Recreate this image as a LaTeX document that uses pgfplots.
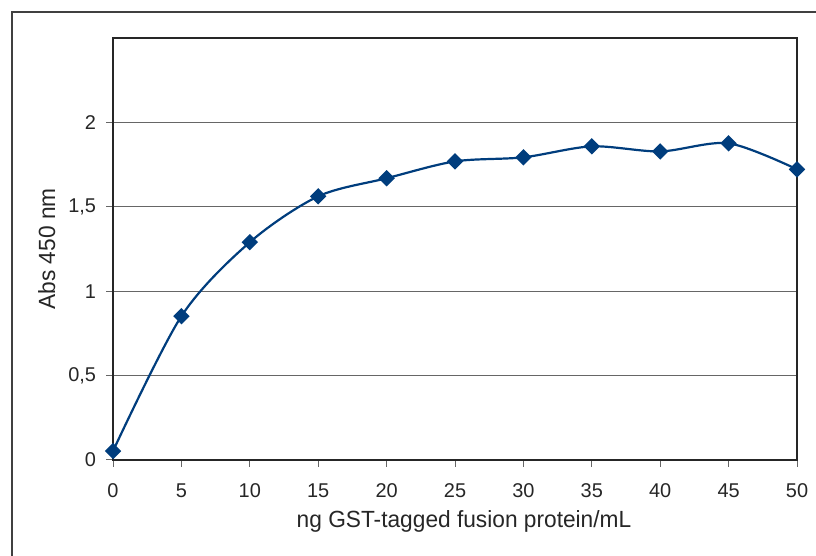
\documentclass[border=0pt]{standalone}
\usepackage{fontspec}
\setmainfont{Liberation Sans}
\newfontfamily\condfont[FakeStretch=0.97]{Liberation Sans}
\usepackage{pgfplots}
\pgfplotsset{compat=1.18}
\definecolor{navy}{RGB}{0,61,125}
\begin{document}
\begin{tikzpicture}[x=1bp,y=1bp]
\path[use as bounding box] (0,0) rectangle (816,556);
\draw[line width=1.5bp, black!75] (12,0) -- (12,544) -- (816,544);
\begin{axis}[
  at={(113bp,96bp)}, anchor=south west,
  scale only axis, width=684bp, height=422bp,
  xmin=0, xmax=50, ymin=0, ymax=2.5,
  xtick={0,5,...,50}, ytick={0,0.5,1,1.5,2},
  tick align=outside, tick pos=left,
  major tick length=7bp,
  ymajorgrids, grid style={black!60, line width=0.8bp},
  axis line style={black!85, line width=1.3bp},
  tick style={black!60, line width=1bp},
  /pgf/number format/use comma,
  /pgf/number format/assume math mode=true,
  ticklabel style={font=\fontsize{20}{24}\selectfont, text=black!85},
  xticklabel style={yshift=-13bp},
  yticklabel style={xshift=-6.5bp},
  xlabel={ng GST-tagged fusion protein/mL},
  ylabel={Abs 450 nm},
  label style={font=\condfont\fontsize{23.5}{28}\selectfont, text=black!85},
  xlabel style={at={(axis description cs:0.5,0)}, anchor=north, yshift=-47bp, xshift=9bp},
  ylabel style={yshift=6bp},
]
\addplot[navy, line width=2.2bp, smooth, tension=0.5, mark=square*, mark size=4.7bp, mark options={fill=navy, draw=navy, rotate=45}]
coordinates {
(0,0.053) (5,0.852) (10,1.29) (15,1.562) (20,1.669) (25,1.769) (30,1.793) (35,1.858) (40,1.828) (45,1.876) (50,1.722)
};
\end{axis}
\end{tikzpicture}
\end{document}
